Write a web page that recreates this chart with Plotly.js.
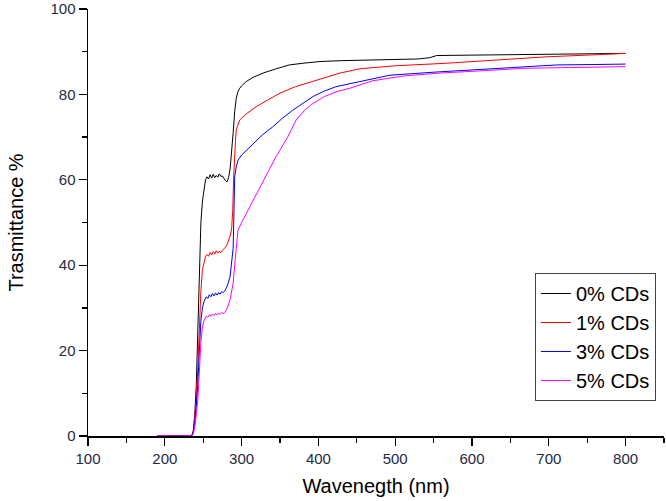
<!DOCTYPE html>
<html>
<head>
<meta charset="utf-8">
<script src="https://cdn.plot.ly/plotly-3.0.1.min.js"></script>
<style>html,body{margin:0;padding:0;background:#fff;}#chart{width:666px;height:501px;}</style>
</head>
<body>
<div id="chart"></div>
<script>
// Wavelength (nm) and transmittance (%)
var seriesNames = ["0% CDs", "1% CDs", "3% CDs", "5% CDs"];
var seriesColors = ["#000000", "#ff0000", "#0000ff", "#ff00ff"];

var x0 = [190,200,220,235,237,239,241,243,245,247,249,251,253,255,257,259,261,263,265,267,269,271,273,275,277,279,281,283,285,287,289,291,293,295,297,300,306,315,328,345,362,380,402,430,454,497,530,545,554,600,645,700,750,800];
var y0 = [0,0,0,0,1,5,12,25,39,50,55,58,60,60.7,60.2,61.2,60.4,61.3,60.5,61.0,60.6,61.4,60.8,60.9,60.3,59.8,59.5,60.5,62.5,66,71,76,79,80.5,81.3,82,83,84,85,86,86.9,87.3,87.7,87.9,88,88.2,88.3,88.6,89.1,89.2,89.3,89.4,89.5,89.6];

var x1 = [190,200,220,235,237,239,241,243,245,247,249,251,253,255,257,259,261,263,265,267,269,271,273,275,277,279,281,283,285,287,288.5,289.5,290.5,292,293,295,297.5,305,319,335,350,370,393,410,428,454,500,567,630,697,750,800];
var y1 = [0,0,0,0,1,4,8,16,27,34,39,41,42,42.5,42.1,43,42.4,43.2,42.6,43.4,42.8,43.3,42.9,43.5,43.8,44.2,44.8,45.8,46.8,48.5,53,60,65,69,71.7,73,74,75.3,77.1,78.8,80.3,81.8,83,84,85,86,86.7,87.3,88,88.8,89.2,89.6];

var x3 = [190,200,220,235,237,239,241,243,245,247,249,251,254,256,258,260,262,264,266,268,270,272,274,276,278,281,285,287,289,290,291,293,295.3,300,307,314.5,327,340.5,353,366.6,380,393,408,423,454,493,550,601,650,710,760,800];
var y3 = [0,0,0,0,1,3,7,12,20,27,30,31.5,32.6,32.2,33.1,32.6,33.4,32.8,33.5,33.0,33.6,33.2,33.8,33.6,33.9,35,37.3,40,44,52,60.7,63,64.6,65.8,67,68.5,70.5,72.4,74.4,76.3,78,79.5,80.8,81.8,83,84.5,85.2,85.7,86.3,86.9,87,87.1];

var x5 = [190,200,220,235,237,239,241,243,245,247,249,251,254,256,258,260,262,264,266,268,270,272,274,276,278,281,285,289,291,293.5,295.3,300,310,326,345,360,371,382,393,408,423,440,454,471,510,558,610,666,730,800];
var y5 = [0,0,0,0,0.5,2,5,8.4,15,22,25.5,27,28,27.8,28.4,28.1,28.6,28.2,28.7,28.4,28.8,28.5,28.9,28.7,28.9,29.8,31.9,35.8,40,45.9,48.2,50,53.5,59,65.5,70,74,76.3,77.9,79.5,80.6,81.4,82.2,83.2,84.3,85,85.5,86.1,86.3,86.5];

var xs = [x0, x1, x3, x5];
var ys = [y0, y1, y3, y5];

var xTickVals = [100,200,300,400,500,600,700,800];
var yTickVals = [0,20,40,60,80,100];

var traces = [];
for (var i = 0; i < xs.length; i++) {
  traces.push({
    x: xs[i], y: ys[i], type: "scatter", mode: "lines", name: seriesNames[i],
    line: {color: seriesColors[i], width: 1}
  });
}

var fontFam = "Liberation Sans, Arial, sans-serif";
var layout = {
  width: 666, height: 501,
  margin: {l: 88, r: 2, t: 9, b: 65},
  paper_bgcolor: "#ffffff", plot_bgcolor: "#ffffff",
  showlegend: true,
  legend: {
    x: 0.986, y: 0.082, xanchor: "right", yanchor: "bottom",
    bgcolor: "#ffffff", bordercolor: "#444444", borderwidth: 1,
    font: {family: fontFam, size: 20, color: "#000000"},
    tracegroupgap: 0
  },
  xaxis: {
    range: [100, 850], showgrid: false, zeroline: false,
    showline: true, linecolor: "#000000", linewidth: 1.5,
    ticks: "outside", ticklen: 8, tickwidth: 1.3, tickcolor: "#000000",
    tickvals: xTickVals, ticktext: xTickVals.map(String),
    tickfont: {family: fontFam, size: 15, color: "#1f2a44"},
    minor: {dtick: 50, tick0: 100, ticks: "outside", ticklen: 5, tickwidth: 1.3, tickcolor: "#000000", showgrid: false},
    title: {text: "Wavenegth (nm)", font: {family: fontFam, size: 20, color: "#000000"}, standoff: 13}
  },
  yaxis: {
    range: [0, 100], showgrid: false, zeroline: false,
    showline: true, linecolor: "#000000", linewidth: 1.5,
    ticks: "outside", ticklen: 8, tickwidth: 1.3, tickcolor: "#000000",
    tickvals: yTickVals, ticktext: yTickVals.map(String),
    tickfont: {family: fontFam, size: 15, color: "#1f2a44"},
    minor: {dtick: 10, tick0: 0, ticks: "outside", ticklen: 5, tickwidth: 1.3, tickcolor: "#000000", showgrid: false},
    title: {text: "Trasmittance %", font: {family: fontFam, size: 20, color: "#000000"}, standoff: 21}
  }
};

Plotly.newPlot("chart", traces, layout, {displayModeBar: false, staticPlot: true});
</script>
</body>
</html>
